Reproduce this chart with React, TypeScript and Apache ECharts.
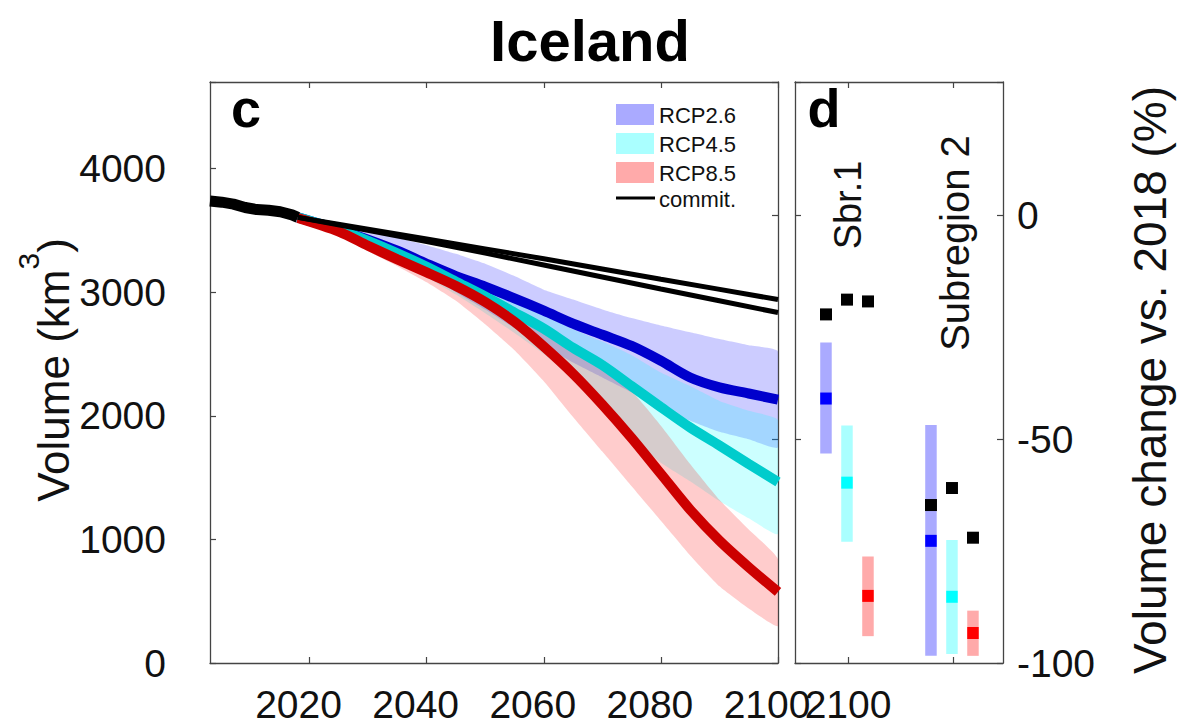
import React, { useEffect, useRef } from "react";
import * as echarts from "echarts";

const FONT = "'Liberation Sans', Arial, Helvetica, sans-serif";

// ---------- panel c data (km^3) ----------
const histYears = [2003, 2005, 2007, 2009, 2011, 2013, 2015, 2017, 2018];
const histVolume = [3738, 3728, 3712, 3685, 3668, 3662, 3650, 3625, 3605];

const years = [2018, 2025, 2030, 2035, 2040, 2045, 2050, 2055, 2060, 2065, 2070, 2075, 2080, 2085, 2090, 2095, 2100];

const rcp26Median = [3605, 3505, 3425, 3335, 3230, 3130, 3045, 2950, 2850, 2745, 2655, 2565, 2445, 2310, 2230, 2180, 2130];
const rcp26Upper = [3605, 3540, 3490, 3440, 3380, 3310, 3230, 3130, 3020, 2940, 2860, 2790, 2730, 2675, 2620, 2570, 2520];
const rcp26Lower = [3600, 3480, 3380, 3270, 3140, 3000, 2860, 2710, 2570, 2430, 2310, 2190, 2060, 1960, 1870, 1810, 1745];

const rcp45Median = [3605, 3505, 3415, 3315, 3205, 3085, 2965, 2835, 2705, 2550, 2410, 2240, 2070, 1905, 1760, 1610, 1465];
const rcp45Upper = [3605, 3520, 3430, 3340, 3230, 3120, 3020, 2920, 2820, 2700, 2600, 2490, 2350, 2240, 2120, 2040, 1965];
const rcp45Lower = [3595, 3470, 3360, 3245, 3120, 2980, 2830, 2670, 2500, 2300, 2070, 1820, 1620, 1470, 1310, 1170, 1045];

const rcp85Median = [3600, 3490, 3375, 3265, 3160, 3050, 2920, 2760, 2560, 2340, 2090, 1820, 1530, 1240, 990, 775, 575];
const rcp85Upper = [3605, 3510, 3430, 3330, 3230, 3110, 2990, 2870, 2730, 2560, 2390, 2200, 1920, 1610, 1320, 1080, 840];
const rcp85Lower = [3595, 3460, 3330, 3210, 3080, 2930, 2740, 2530, 2280, 1990, 1710, 1430, 1150, 870, 620, 440, 300];

const commitYears = [2018, 2040, 2060, 2080, 2100];
const commitHigh = [3605, 3430, 3270, 3105, 2940];
const commitLow = [3605, 3410, 3220, 3025, 2835];

const xTicksC = [2020, 2040, 2060, 2080, 2100];
const volumeMax = 4700;
const vol2018 = 3620;

// ---------- panel d data (% change vs 2018) ----------
const dGroups = ["Sbr.1", "Sbr.1", "Sbr.1", "Subregion 2", "Subregion 2", "Subregion 2"];
const dScenario = [0, 1, 2, 0, 1, 2]; // 0 = RCP2.6, 1 = RCP4.5, 2 = RCP8.5
const dPos = [2079, 2099, 2119, 2179, 2199, 2219];
const dLow = [-53.2, -72.9, -94.0, -98.4, -98.0, -98.4];
const dHigh = [-28.4, -46.9, -76.2, -46.8, -72.5, -88.3];
const dMedian = [-40.9, -59.7, -85.0, -72.7, -85.2, -93.3];
const dCommit = [-22.1, -18.8, -19.2, -64.7, -60.9, -72.0];
const dXMin = 2049.5;
const dXMax = 2247.6;
const dTicks = [2100, 2200];
const dLabels = [2100];

const scenarioNames = ["RCP2.6", "RCP4.5", "RCP8.5"];
const bandFills = ["rgba(0,0,255,0.2)", "rgba(0,255,255,0.2)", "rgba(255,0,0,0.2)"];
const lineColors = ["#0000cc", "#00cccc", "#cc0000"];
const patchColors = ["#aaaaff", "#aaffff", "#ffaaaa"];
const medianColors = ["#0000ff", "#00ffff", "#ff0000"];

const AXIS_COLOR = "#444";
const TEXT_COLOR = "#111";

function pairs(xs: number[], ys: number[]) {
  return xs.map((x, i) => [x, ys[i]]);
}

function bandSeries(key: string, lower: number[], upper: number[], fill: string) {
  return {
    type: "custom",
    name: key,
    xAxisIndex: 0,
    yAxisIndex: 0,
    silent: true,
    clip: true,
    data: years.map((y, i) => [y, lower[i], upper[i]]),
    encode: { x: 0, y: [1, 2] },
    renderItem: (params: any, api: any) => {
      if (params.dataIndex !== 0) return null;
      const top = years.map((y, i) => api.coord([y, upper[i]]));
      const bottom = years.map((y, i) => api.coord([y, lower[i]])).reverse();
      return {
        type: "polygon",
        shape: { points: top.concat(bottom), smooth: 0.15 },
        style: { fill },
      };
    },
  };
}

function medianSeries(name: string, vals: number[], color: string) {
  return {
    type: "line",
    name,
    xAxisIndex: 0,
    yAxisIndex: 0,
    data: pairs(years, vals),
    symbol: "none",
    smooth: 0.3,
    silent: true,
    lineStyle: { width: 10, color, cap: "butt" },
  };
}

export default function App() {
  const ref = useRef<HTMLDivElement>(null);

  useEffect(() => {
    if (!ref.current) return;
    const chart = echarts.init(ref.current, null, { renderer: "svg" });
    const pctMax = (volumeMax / vol2018 - 1) * 100;

    const tickCommon = { inside: true, length: 6, lineStyle: { color: AXIS_COLOR, width: 1.2 } };
    const lineCommon = { show: true, onZero: false, lineStyle: { color: AXIS_COLOR, width: 1.3 } };
    const labelBig = { fontSize: 39, color: TEXT_COLOR, fontFamily: FONT, lineHeight: 39 };
    const plain = (v: number) => String(v);

    const option: any = {
      animation: false,
      backgroundColor: "#ffffff",
      textStyle: { fontFamily: FONT },
      grid: [
        { left: 210, top: 82, width: 568, height: 581 },
        { left: 795, top: 82, width: 208, height: 581 },
      ],
      xAxis: [
        {
          type: "value", gridIndex: 0, position: "bottom", min: 2003, max: 2100,
          axisLine: lineCommon,
          axisTick: { ...tickCommon, customValues: xTicksC },
          axisLabel: { ...labelBig, customValues: xTicksC, margin: 22, padding: [0, 22, 0, 0], formatter: plain },
          splitLine: { show: false },
        },
        {
          type: "value", gridIndex: 0, position: "top", min: 2003, max: 2100,
          axisLine: lineCommon,
          axisTick: { ...tickCommon, customValues: xTicksC },
          axisLabel: { show: false },
          splitLine: { show: false },
        },
        {
          type: "value", gridIndex: 1, position: "bottom", min: dXMin, max: dXMax,
          axisLine: lineCommon,
          axisTick: { ...tickCommon, customValues: dTicks },
          axisLabel: { ...labelBig, customValues: dLabels, margin: 22, formatter: plain },
          splitLine: { show: false },
        },
        {
          type: "value", gridIndex: 1, position: "top", min: dXMin, max: dXMax,
          axisLine: lineCommon,
          axisTick: { ...tickCommon, customValues: dTicks },
          axisLabel: { show: false },
          splitLine: { show: false },
        },
      ],
      yAxis: [
        {
          type: "value", gridIndex: 0, position: "left", min: 0, max: volumeMax, interval: 1000,
          axisLine: lineCommon,
          axisTick: tickCommon,
          axisLabel: { ...labelBig, margin: 44, formatter: (v: number) => (v % 1000 === 0 ? String(v) : "") },
          splitLine: { show: false },
        },
        {
          type: "value", gridIndex: 0, position: "right", min: -100, max: pctMax, interval: 50,
          axisLine: lineCommon,
          axisTick: tickCommon,
          axisLabel: { show: false },
          splitLine: { show: false },
        },
        {
          type: "value", gridIndex: 1, position: "left", min: -100, max: pctMax, interval: 50,
          axisLine: lineCommon,
          axisTick: tickCommon,
          axisLabel: { show: false },
          splitLine: { show: false },
        },
        {
          type: "value", gridIndex: 1, position: "right", min: -100, max: pctMax, interval: 50,
          axisLine: lineCommon,
          axisTick: tickCommon,
          axisLabel: { ...labelBig, margin: 14, formatter: (v: number) => (v % 50 === 0 ? String(v) : "") },
          splitLine: { show: false },
        },
      ],
      series: [
        bandSeries("band RCP2.6", rcp26Lower, rcp26Upper, bandFills[0]),
        medianSeries(scenarioNames[0], rcp26Median, lineColors[0]),
        bandSeries("band RCP4.5", rcp45Lower, rcp45Upper, bandFills[1]),
        medianSeries(scenarioNames[1], rcp45Median, lineColors[1]),
        bandSeries("band RCP8.5", rcp85Lower, rcp85Upper, bandFills[2]),
        medianSeries(scenarioNames[2], rcp85Median, lineColors[2]),
        {
          type: "line", name: "commit. high", xAxisIndex: 0, yAxisIndex: 0,
          data: pairs(commitYears, commitHigh), symbol: "none", smooth: 0.2, silent: true,
          lineStyle: { width: 5, color: "#000" },
        },
        {
          type: "line", name: "commit. low", xAxisIndex: 0, yAxisIndex: 0,
          data: pairs(commitYears, commitLow), symbol: "none", smooth: 0.2, silent: true,
          lineStyle: { width: 5, color: "#000" },
        },
        {
          type: "line", name: "observed", xAxisIndex: 0, yAxisIndex: 0,
          data: pairs(histYears, histVolume), symbol: "none", silent: true,
          lineStyle: { width: 11, color: "#000" },
        },
        {
          type: "custom", name: "ranges", xAxisIndex: 2, yAxisIndex: 3, silent: true,
          data: dPos.map((x, i) => [x, dLow[i], dHigh[i], dMedian[i], dScenario[i]]),
          encode: { x: 0, y: [1, 2] },
          renderItem: (params: any, api: any) => {
            const x = api.value(0);
            const lo = api.coord([x, api.value(1)]);
            const hi = api.coord([x, api.value(2)]);
            const md = api.coord([x, api.value(3)]);
            const s = api.value(4);
            const w = 11.5;
            return {
              type: "group",
              children: [
                { type: "rect", shape: { x: hi[0] - w / 2, y: hi[1], width: w, height: lo[1] - hi[1] }, style: { fill: patchColors[s] } },
                { type: "rect", shape: { x: md[0] - w / 2, y: md[1] - 6, width: w, height: 12 }, style: { fill: medianColors[s] } },
              ],
            };
          },
        },
        {
          type: "scatter", name: "commit. subregions", xAxisIndex: 2, yAxisIndex: 3, silent: true,
          data: pairs(dPos, dCommit), symbol: "rect", symbolSize: 12,
          itemStyle: { color: "#000", opacity: 1 },
        },
      ],
      graphic: [
        {
          type: "text", x: 590, y: 40,
          style: { text: "Iceland", font: `bold 58px ${FONT}`, fill: "#000", align: "center", verticalAlign: "middle" },
        },
        {
          type: "text", x: 246, y: 108,
          style: { text: "c", font: `bold 54px ${FONT}`, fill: "#000", align: "center", verticalAlign: "middle" },
        },
        {
          type: "text", x: 824, y: 108,
          style: { text: "d", font: `bold 54px ${FONT}`, fill: "#000", align: "center", verticalAlign: "middle" },
        },
        // legend
        ...scenarioNames.flatMap((n, i) => [
          { type: "rect", shape: { x: 616, y: 104 + i * 29, width: 38, height: 21 }, style: { fill: patchColors[i] } },
          {
            type: "text", x: 659, y: 115 + i * 29,
            style: { text: n, font: `22px ${FONT}`, fill: TEXT_COLOR, align: "left", verticalAlign: "middle" },
          },
        ]),
        { type: "line", shape: { x1: 616, y1: 198, x2: 655, y2: 198 }, style: { stroke: "#000", lineWidth: 3 } },
        {
          type: "text", x: 659, y: 199,
          style: { text: "commit.", font: `22px ${FONT}`, fill: TEXT_COLOR, align: "left", verticalAlign: "middle" },
        },
        // panel d group labels
        {
          type: "text", x: 848, y: 205, rotation: Math.PI / 2,
          style: { text: dGroups[0], font: `38px ${FONT}`, fill: TEXT_COLOR, align: "center", verticalAlign: "middle" },
        },
        {
          type: "text", x: 955, y: 243, rotation: Math.PI / 2,
          style: { text: dGroups[3], font: `40px ${FONT}`, fill: TEXT_COLOR, align: "center", verticalAlign: "middle" },
        },
        // axis titles
        {
          type: "text", x: 44, y: 370, rotation: Math.PI / 2,
          style: {
            text: "{a|Volume (km}{s|3}{a|)}",
            align: "center", verticalAlign: "middle", fill: TEXT_COLOR,
            rich: {
              a: { fontSize: 44, fontFamily: FONT, lineHeight: 62, verticalAlign: "bottom", fill: TEXT_COLOR },
              s: { fontSize: 30, fontFamily: FONT, lineHeight: 62, verticalAlign: "top", fill: TEXT_COLOR },
            },
          },
        },
        {
          type: "text", x: 1150, y: 380, rotation: Math.PI / 2,
          style: { text: "Volume change vs. 2018 (%)", font: `46px ${FONT}`, fill: TEXT_COLOR, align: "center", verticalAlign: "middle" },
        },
      ],
    };

    chart.setOption(option);
    return () => chart.dispose();
  }, []);

  return (
    <div
      ref={ref}
      style={{ position: "fixed", left: 0, top: 0, width: 1180, height: 725, background: "#fff" }}
    />
  );
}
